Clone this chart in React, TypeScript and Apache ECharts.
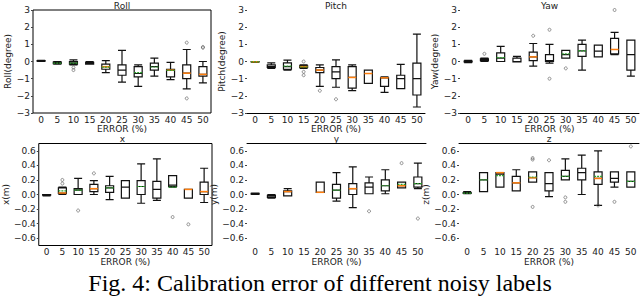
import React, { useEffect, useRef } from "react";
import * as echarts from "echarts";

const categories = ["0", "5", "10", "15", "20", "25", "30", "35", "40", "45", "50"];
const topTicks = [-3, -2, -1, 0, 1, 2, 3];
const bottomTicks = [-0.6, -0.4, -0.2, 0, 0.2, 0.4, 0.6];

// [min, Q1, median, Q3, max]
const rollBox = [
  [0, 0.02, 0.03, 0.05, 0.07],
  [-0.15, -0.12, -0.08, -0.03, 0.0],
  [-0.2, -0.15, -0.08, 0.0, 0.1],
  [-0.15, -0.15, -0.12, -0.05, 0.0],
  [-0.65, -0.45, -0.3, -0.15, 0.05],
  [-1.2, -0.8, -0.5, -0.2, 0.65],
  [-1.45, -0.9, -0.7, -0.3, -0.2],
  [-0.85, -0.5, -0.3, -0.1, 0.2],
  [-1.05, -0.9, -0.5, -0.45, -0.05],
  [-1.6, -1.0, -0.68, -0.2, 0.7],
  [-1.25, -0.85, -0.75, -0.3, 0.0],
];
const rollMedian = [null, null, null, null, -0.3, null, null, null, -0.5, -0.68, -0.75];
const rollMean = [null, -0.1, -0.1, null, -0.33, null, -0.65, -0.32, -0.52, null, null];
const rollOutliers = [[2, -0.35], [2, -0.5], [9, 1.1], [9, -2.15], [10, 0.8], [10, 0.85]];

const pitchBox = [
  [-0.05, -0.03, -0.02, -0.01, 0],
  [-0.4, -0.35, -0.3, -0.2, -0.08],
  [-0.5, -0.45, -0.3, -0.08, 0.08],
  [-0.4, -0.35, -0.3, -0.25, -0.2],
  [-1.45, -0.65, -0.5, -0.35, -0.2],
  [-1.5, -1.0, -0.6, -0.3, 0.1],
  [-1.7, -1.55, -0.93, -0.3, -0.2],
  [-1.28, -1.28, -0.7, -0.5, -0.5],
  [-1.8, -1.45, -0.95, -0.95, -0.9],
  [-1.58, -1.58, -1.0, -0.8, -0.17],
  [-2.65, -1.95, -1.0, -0.1, 1.6],
];
const pitchMedian = [-0.02, null, null, -0.3, -0.5, null, -0.93, -0.7, -0.95, null, null];
const pitchMean = [-0.02, null, -0.27, -0.32, null, null, null, null, null, null, null];
const pitchOutliers = [[3, 0.0], [3, -0.6], [3, -0.8], [4, -1.7], [5, -2.2]];

const yawBox = [
  [-0.07, -0.02, 0, 0.02, 0.07],
  [0.0, 0.05, 0.1, 0.15, 0.2],
  [0, 0, 0.2, 0.5, 0.88],
  [-0.03, -0.03, 0, 0.2, 0.3],
  [-0.27, 0.05, 0.27, 0.55, 1.05],
  [-0.1, 0, 0.05, 0.4, 1.0],
  [0.2, 0.2, 0.4, 0.65, 0.65],
  [-0.5, 0.3, 0.62, 1.0, 1.25],
  [0.27, 0.27, 0.6, 0.95, 0.95],
  [0.4, 0.45, 0.7, 1.35, 1.7],
  [-0.85, -0.5, 0.4, 1.25, 1.25],
];
const yawMedian = [null, null, null, null, 0.27, null, null, null, null, 0.7, null];
const yawMean = [null, null, 0.23, null, null, null, 0.45, 0.62, null, null, null];
const yawOutliers = [[1, 0.45], [4, 1.5], [5, 1.85], [5, -1.0], [6, -0.4], [9, 3.0]];

const xBox = [
  [-0.02, -0.01, -0.01, 0.0, 0.0],
  [0, 0.015, 0.02, 0.09, 0.1],
  [0, 0, 0.06, 0.08, 0.22],
  [0, 0.04, 0.08, 0.14, 0.19],
  [-0.07, 0.03, 0.09, 0.12, 0.25],
  [-0.05, -0.05, 0.1, 0.19, 0.19],
  [-0.12, 0, 0.11, 0.19, 0.42],
  [-0.08, -0.05, 0.07, 0.18, 0.49],
  [0.1, 0.11, 0.13, 0.26, 0.26],
  [-0.05, -0.05, 0.07, 0.07, 0.07],
  [-0.11, 0, 0.04, 0.17, 0.36],
];
const xMedian = [null, 0.02, null, 0.08, null, null, null, null, null, 0.07, 0.04];
const xMean = [null, 0.05, 0.06, null, 0.09, null, 0.11, null, 0.1, null, null];
const xOutliers = [[1, 0.2], [1, 0.15], [2, -0.22], [3, 0.29], [8, -0.31], [9, -0.41]];

const yBox = [
  [0, 0.005, 0.01, 0.015, 0.02],
  [-0.05, -0.04, -0.02, -0.01, 0],
  [-0.02, -0.02, 0.04, 0.05, 0.08],
  ["-", "-", "-", "-", "-"],
  [0.03, 0.03, 0.03, 0.17, 0.17],
  [-0.09, -0.05, 0.06, 0.14, 0.3],
  [-0.18, 0, 0.08, 0.15, 0.38],
  [0.01, 0.01, 0.1, 0.16, 0.24],
  [0.01, 0.05, 0.12, 0.2, 0.34],
  [0.09, 0.09, 0.12, 0.17, 0.17],
  [0.08, 0.1, 0.15, 0.24, 0.43],
];
const yMedian = [null, null, 0.04, null, 0.03, null, 0.08, null, null, 0.12, null];
const yMean = [null, null, null, null, null, 0.06, null, null, 0.12, 0.14, 0.15];
const yOutliers = [[7, -0.23], [9, 0.43], [10, -0.33]];

const zBox = [
  [0.01, 0.015, 0.02, 0.025, 0.04],
  [0.04, 0.04, 0.2, 0.3, 0.3],
  [0.1, 0.1, 0.28, 0.3, 0.3],
  [0.05, 0.05, 0.16, 0.25, 0.34],
  [0.17, 0.17, 0.23, 0.31, 0.31],
  [-0.03, 0.05, 0.15, 0.3, 0.3],
  [0.2, 0.2, 0.25, 0.33, 0.49],
  [0, 0.2, 0.3, 0.36, 0.54],
  [-0.15, 0.14, 0.22, 0.31, 0.6],
  [0.1, 0.17, 0.22, 0.31, 0.31],
  [0.1, 0.1, 0.18, 0.31, 0.31],
];
const zMedian = [null, null, 0.3, 0.16, 0.23, null, null, null, 0.22, null, null];
const zMean = [0.02, 0.2, 0.26, null, 0.24, null, 0.25, null, 0.25, null, 0.18];
const zOutliers = [[4, 0.5], [4, 0.48], [4, -0.17], [5, 0.47], [6, -0.04], [6, -0.1], [8, -0.15], [9, -0.1], [10, 0.66]];

const FONT = "DejaVu Sans";

function fmtTop(v: number) {
  return String(Math.round(v)).replace("-", "\u2212");
}
function fmtBottom(v: number) {
  return (Math.abs(v) < 1e-9 ? 0 : v).toFixed(1).replace("-", "\u2212");
}

export default function App() {
  const ref = useRef<HTMLDivElement>(null);

  useEffect(() => {
    document.body.style.margin = "0";
    if (!ref.current) return;
    const chart = echarts.init(ref.current, null, { renderer: "svg" });

    const panels = [
      { title: "Roll", yName: "Roll(degree)", box: rollBox, med: rollMedian, mean: rollMean, out: rollOutliers, row: 0,
        grid: { left: 33, top: 10, width: 178, height: 103 }, frame: "box", nameGap: 20 },
      { title: "Pitch", yName: "Pitch(degree)", box: pitchBox, med: pitchMedian, mean: pitchMean, out: pitchOutliers, row: 0,
        grid: { left: 247, top: 10, width: 178, height: 103 }, frame: "bottom", nameGap: 20 },
      { title: "Yaw", yName: "Yaw(degree)", box: yawBox, med: yawMedian, mean: yawMean, out: yawOutliers, row: 0,
        grid: { left: 460, top: 10, width: 179, height: 103 }, frame: "bottom", nameGap: 21 },
      { title: "x", yName: "x(m)", box: xBox, med: xMedian, mean: xMean, out: xOutliers, row: 1,
        grid: { left: 33, top: 143.5, width: 179, height: 102 }, frame: "box", nameGap: 27 },
      { title: "y", yName: "y(m)", box: yBox, med: yMedian, mean: yMean, out: yOutliers, row: 1,
        grid: { left: 247, top: 143.5, width: 179, height: 102 }, frame: "top", nameGap: 27 },
      { title: "z", yName: "z(m)", box: zBox, med: zMedian, mean: zMean, out: zOutliers, row: 1,
        grid: { left: 459, top: 143.5, width: 180, height: 102 }, frame: "top", nameGap: 27 },
    ];

    const grids: any[] = [];
    const xAxes: any[] = [];
    const yAxes: any[] = [];
    const series: any[] = [];
    const graphics: any[] = [];

    const lineRender = (color: string, dash: any, lw: number) => (params: any, api: any) => {
      const v = api.value(1);
      if (v === null || v === undefined || isNaN(v)) return null;
      const p = api.coord([api.value(0), v]);
      const w = 8;
      return {
        type: "line",
        shape: { x1: p[0] - w / 2, y1: p[1], x2: p[0] + w / 2, y2: p[1] },
        style: { stroke: color, lineWidth: lw, lineDash: dash },
      };
    };

    panels.forEach((pn, i) => {
      grids.push({
        ...pn.grid,
        show: pn.frame === "box",
        borderColor: "#000",
        borderWidth: 1,
        backgroundColor: "transparent",
        containLabel: false,
      });
      const xIdx = xAxes.length;
      xAxes.push({
        type: "category",
        gridIndex: i,
        data: categories,
        boundaryGap: true,
        name: "ERROR (%)",
        nameLocation: "middle",
        nameGap: 9,
        nameTextStyle: { fontFamily: FONT, fontSize: 9, color: "#222" },
        axisLine: { show: pn.frame === "bottom", onZero: false, lineStyle: { color: "#000", width: 1 } },
        axisTick: { show: false },
        axisLabel: { interval: 0, fontFamily: FONT, fontSize: 9, color: "#222", margin: 2 },
        splitLine: { show: false },
      });
      if (pn.frame === "top") {
        xAxes.push({
          type: "category",
          gridIndex: i,
          position: "top",
          data: categories,
          axisLine: { show: true, onZero: false, lineStyle: { color: "#000", width: 1 } },
          axisTick: { show: false },
          axisLabel: { show: false },
          splitLine: { show: false },
        });
      }
      const top = pn.row === 0;
      yAxes.push({
        type: "value",
        gridIndex: i,
        min: top ? -3 : -0.7,
        max: top ? 3 : 0.7,
        ...(top ? { interval: 1 } : {}),
        name: pn.yName,
        nameLocation: "middle",
        nameGap: pn.nameGap,
        nameRotate: 90,
        nameTextStyle: { fontFamily: FONT, fontSize: 9, color: "#222" },
        axisLine: { show: false },
        axisTick: top
          ? { show: true, length: 2, lineStyle: { color: "#444" } }
          : { show: true, length: 2, lineStyle: { color: "#444" }, customValues: bottomTicks },
        axisLabel: top
          ? { fontFamily: FONT, fontSize: 9, color: "#222", margin: 3, formatter: fmtTop, customValues: topTicks }
          : { fontFamily: FONT, fontSize: 9, color: "#222", margin: 3, formatter: fmtBottom, customValues: bottomTicks },
        splitLine: { show: false },
      });
      series.push({
        type: "boxplot",
        xAxisIndex: xIdx,
        yAxisIndex: i,
        data: pn.box,
        boxWidth: [8, 8],
        itemStyle: { color: "transparent", borderColor: "#111", borderWidth: 1.2 },
        emphasis: { disabled: true },
      });
      series.push({
        type: "custom",
        xAxisIndex: xIdx,
        yAxisIndex: i,
        data: pn.med.map((v, k) => [k, v === null ? NaN : v]),
        renderItem: lineRender("#ff7f0e", null, 1.5),
        z: 5,
      });
      series.push({
        type: "custom",
        xAxisIndex: xIdx,
        yAxisIndex: i,
        data: pn.mean.map((v, k) => [k, v === null ? NaN : v]),
        renderItem: lineRender("#2ca02c", [2, 1], 1.2),
        z: 6,
      });
      series.push({
        type: "scatter",
        xAxisIndex: xIdx,
        yAxisIndex: i,
        data: pn.out,
        symbol: "circle",
        symbolSize: 3,
        itemStyle: { color: "transparent", borderColor: "#555", borderWidth: 0.8 },
        z: 4,
      });
      graphics.push({
        type: "text",
        x: pn.grid.left + pn.grid.width / 2,
        y: pn.grid.top,
        style: {
          text: pn.title,
          fontFamily: FONT,
          fontSize: 9,
          fill: "#222",
          textAlign: "center",
          textVerticalAlign: "bottom",
        },
      });
    });

    graphics.push({
      type: "text",
      x: 320,
      y: 283,
      style: {
        text: "Fig. 4: Calibration error of different noisy labels",
        fontFamily: "Liberation Serif",
        fontSize: 24,
        fill: "#000",
        textAlign: "center",
        textVerticalAlign: "middle",
      },
    });

    chart.setOption({
      animation: false,
      backgroundColor: "#fff",
      grid: grids,
      xAxis: xAxes,
      yAxis: yAxes,
      series,
      graphic: graphics,
    });

    return () => chart.dispose();
  }, []);

  return <div ref={ref} style={{ width: 640, height: 299 }} />;
}
